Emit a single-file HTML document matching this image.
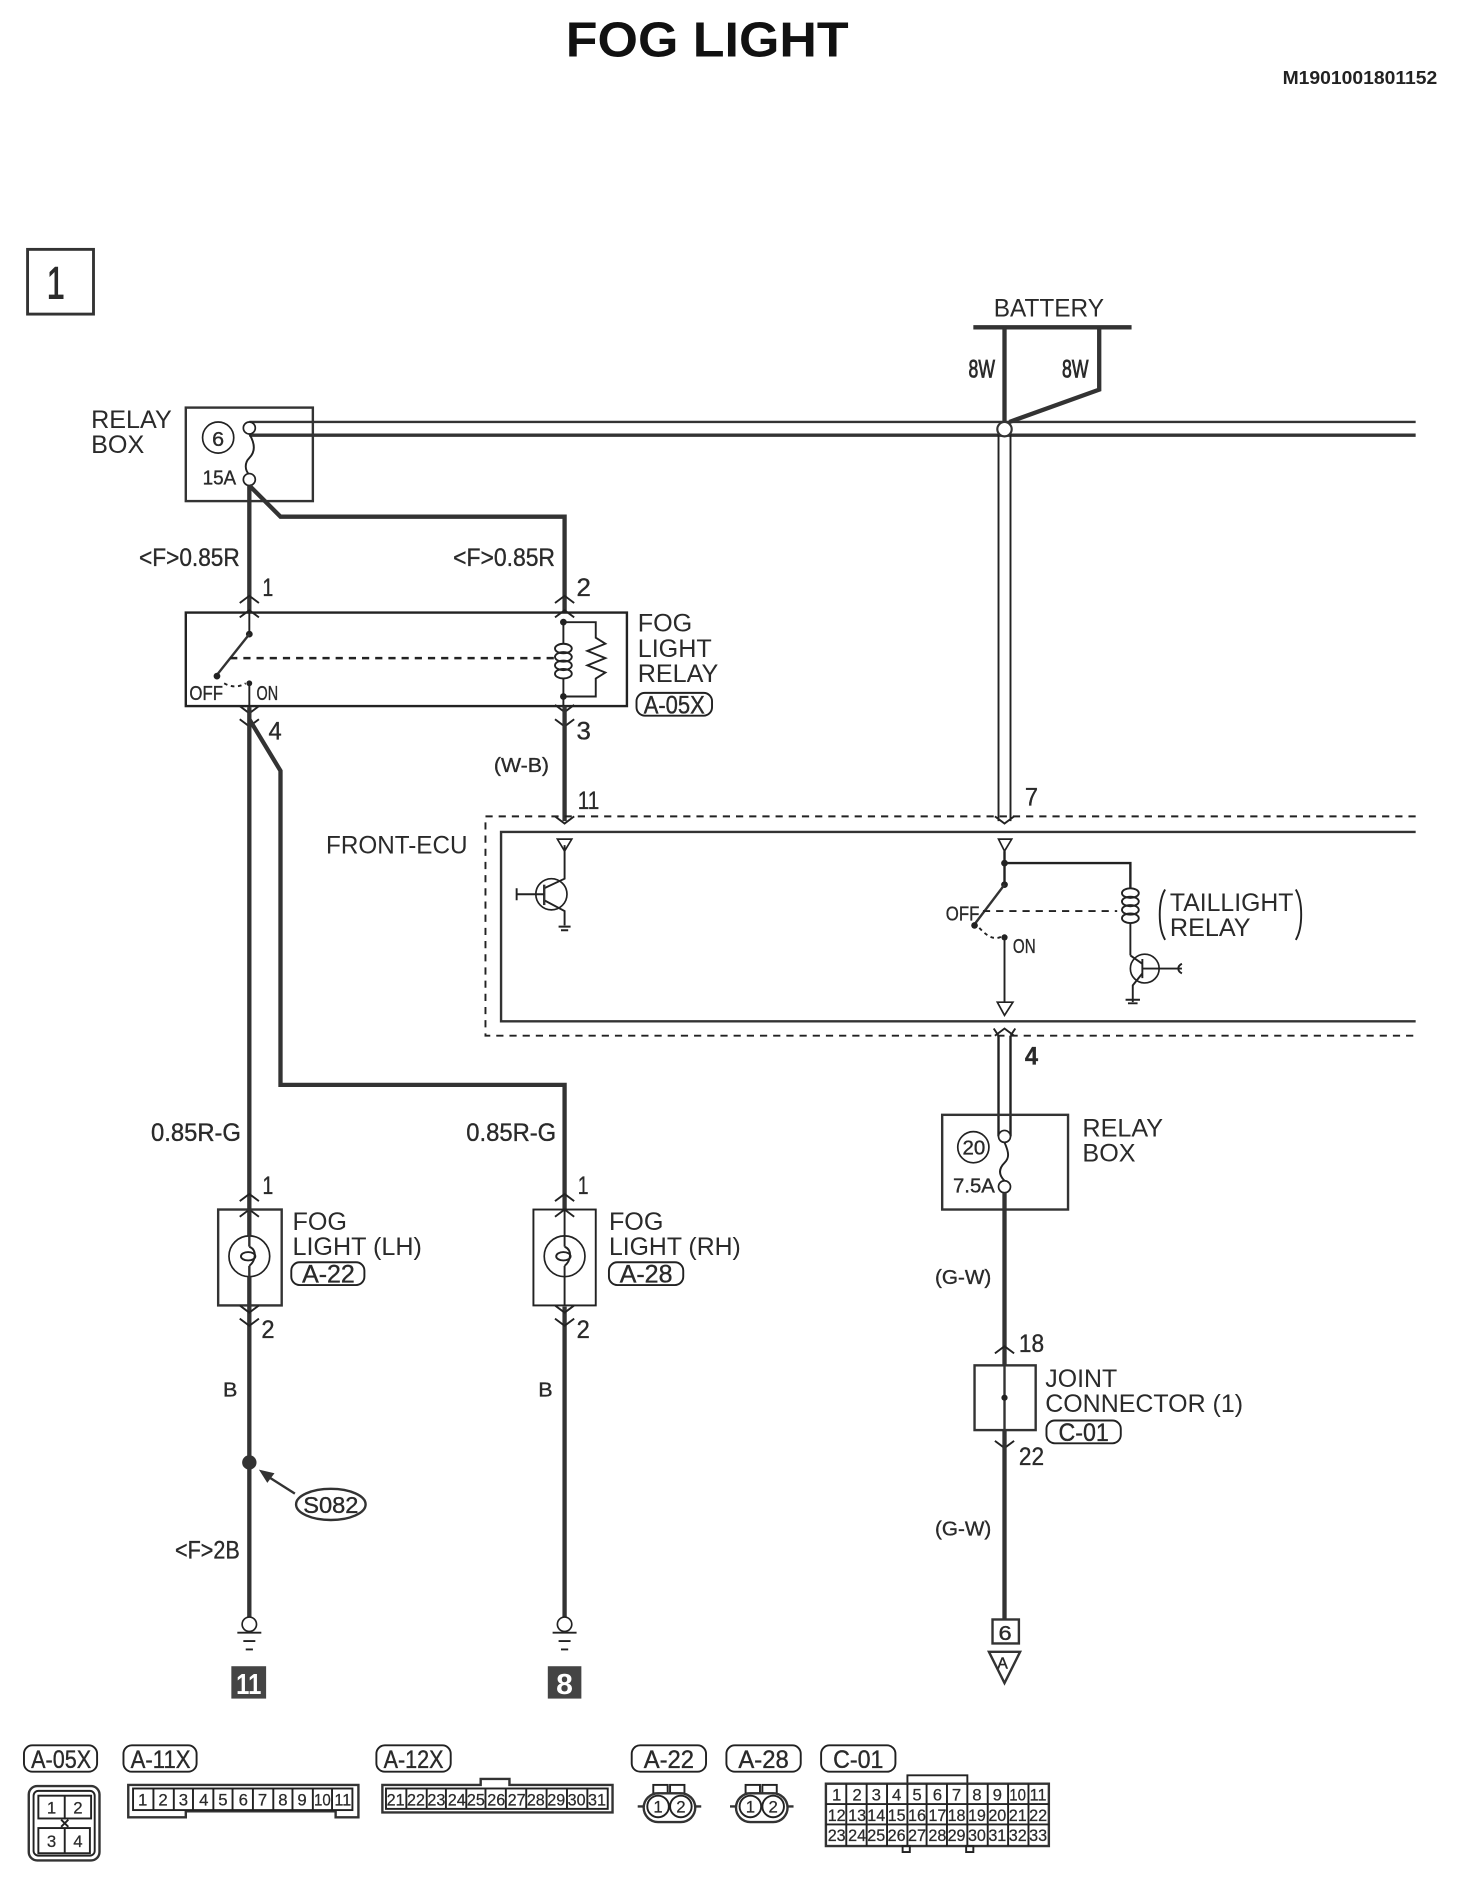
<!DOCTYPE html>
<html><head><meta charset="utf-8"><title>FOG LIGHT</title>
<style>
html,body{margin:0;padding:0;background:#fff}
svg{display:block}
text{font-family:"Liberation Sans",sans-serif;fill:#2a2a2a;font-size:21px}
.n{font-size:21px;stroke:#2a2a2a;stroke-width:.3}
.s{font-size:17px;stroke:#2a2a2a;stroke-width:.3}
.w{stroke:#333;stroke-width:3.6;fill:none}
.t{stroke:#222;stroke-width:1.6;fill:none}
.b{stroke:#333;stroke-width:2;fill:none}
.p{stroke:#333;stroke-width:1.8;fill:#fff}
.c{stroke:#222;stroke-width:1.4;fill:#fff}
.d{stroke:#222;stroke-width:1.6;fill:none;stroke-dasharray:6 5}
.cell text{font-size:14px;text-anchor:middle;stroke:#2a2a2a;stroke-width:.2}
</style></head><body>
<svg xmlns="http://www.w3.org/2000/svg" width="1472" height="1880" viewBox="0 0 1228 1568.3">
<defs>
<path id="u" class="t" d="M-8 6L0 0L8 6"/>
<path id="v" class="t" d="M-8 -6L0 0L8 -6"/>
</defs>
<rect width="1228" height="1569" fill="#fff"/>

<text x="472" y="47" style="font-size:41px;font-weight:bold;fill:#111" textLength="236" lengthAdjust="spacingAndGlyphs">FOG LIGHT</text>
<text x="1070" y="70" style="font-size:15.5px;font-weight:bold;fill:#222" textLength="129" lengthAdjust="spacingAndGlyphs">M1901001801152</text>

<rect x="23" y="208" width="55" height="54" class="b" style="stroke-width:2.4"/>
<text x="39" y="249" style="font-size:38px;stroke:#2a2a2a;stroke-width:.8" textLength="15" lengthAdjust="spacingAndGlyphs">1</text>

<!-- battery -->
<text x="829" y="264" textLength="92" lengthAdjust="spacingAndGlyphs">BATTERY</text>
<path d="M812 273H944" class="w"/>
<path d="M838 273V352" class="w"/>
<path d="M917 273V325L842 352" class="w"/>
<text x="808" y="315" class="n" style="stroke-width:.7" textLength="22" lengthAdjust="spacingAndGlyphs">8W</text>
<text x="886" y="315" class="n" style="stroke-width:.7" textLength="22" lengthAdjust="spacingAndGlyphs">8W</text>

<!-- bus -->
<path d="M208 352H1181" class="b"/>
<path d="M208 363H1181" class="b" style="stroke-width:2.8"/>
<path d="M833 358V685M843 358V685" class="t"/>
<circle cx="838" cy="358" r="6" class="p"/>

<!-- relay box 6 -->
<rect x="155" y="340" width="106" height="78" class="b"/>
<text x="76" y="357">RELAY</text>
<text x="76" y="378">BOX</text>
<circle cx="182" cy="365" r="13" class="c"/>
<text x="177" y="372" class="s" textLength="10" lengthAdjust="spacingAndGlyphs">6</text>
<text x="169" y="404" class="s" textLength="28" lengthAdjust="spacingAndGlyphs">15A</text>
<path d="M208 362C214 372 212 378 208 382C204 386 204 392 208 396" class="t"/>
<circle cx="208" cy="357" r="5" class="c"/>
<circle cx="208" cy="400" r="5" class="c"/>

<path d="M208 405V510" class="w"/>
<path d="M208 405L234 431H471V510" class="w"/>
<text x="116" y="472" class="n" textLength="84" lengthAdjust="spacingAndGlyphs">&lt;F&gt;0.85R</text>
<text x="378" y="472" class="n" textLength="85" lengthAdjust="spacingAndGlyphs">&lt;F&gt;0.85R</text>
<text x="219" y="497" class="n" textLength="9" lengthAdjust="spacingAndGlyphs">1</text>
<text x="481" y="497" class="n" textLength="12" lengthAdjust="spacingAndGlyphs">2</text>
<use href="#u" x="208" y="497"/><use href="#u" x="208" y="509"/>
<use href="#u" x="471" y="497"/><use href="#u" x="471" y="509"/>

<!-- fog light relay -->
<rect x="155" y="511" width="368" height="78" class="t" style="stroke-width:2"/>
<text x="532" y="527">FOG</text>
<text x="532" y="548">LIGHT</text>
<text x="532" y="569">RELAY</text>
<rect x="531" y="578" width="63" height="19" rx="7" class="t"/>
<text x="537" y="595" class="n" textLength="51" lengthAdjust="spacingAndGlyphs">A-05X</text>
<path d="M208 511V529" class="t"/>
<circle cx="208" cy="529" r="2.8" fill="#222"/>
<path d="M208 529L181 563" class="b"/>
<circle cx="181" cy="564" r="2.8" fill="#222"/>
<path d="M192 549H465" class="d" style="stroke-width:2"/>
<path d="M187 570C194 574 200 573 205 570" class="t" stroke-dasharray="3 3"/>
<circle cx="208" cy="570" r="2.4" fill="#222"/>
<path d="M208 570V600" class="t"/>
<text x="158" y="584" class="s" textLength="28" lengthAdjust="spacingAndGlyphs">OFF</text>
<text x="214" y="584" class="s" textLength="18" lengthAdjust="spacingAndGlyphs">ON</text>
<use href="#v" x="208" y="595"/><use href="#v" x="208" y="606"/>
<!-- coil -->
<circle cx="470" cy="519" r="2.8" fill="#222"/>
<circle cx="470" cy="581" r="2.8" fill="#222"/>
<path d="M470 519V537M470 566V590" class="t"/>
<g class="t"><ellipse cx="470" cy="541" rx="7" ry="4"/><ellipse cx="470" cy="548" rx="7" ry="4"/><ellipse cx="470" cy="555" rx="7" ry="4"/><ellipse cx="470" cy="562" rx="7" ry="4"/></g>
<path d="M470 519H497V532L505 537L490 543L505 549L490 555L505 561L497 566V581H470" class="t"/>
<use href="#v" x="471" y="594"/><use href="#v" x="471" y="606"/>
<text x="481" y="617" class="n" textLength="12" lengthAdjust="spacingAndGlyphs">3</text>
<text x="224" y="617" class="n" textLength="11" lengthAdjust="spacingAndGlyphs">4</text>

<path d="M471 589V685" class="w"/>
<text x="412" y="644" class="s" textLength="46" lengthAdjust="spacingAndGlyphs">(W-B)</text>
<text x="482" y="675" class="n" textLength="18" lengthAdjust="spacingAndGlyphs">11</text>
<text x="855" y="672" class="n" textLength="11" lengthAdjust="spacingAndGlyphs">7</text>
<use href="#v" x="471" y="687"/><use href="#v" x="838" y="687"/>

<!-- front ecu -->
<path d="M1181 681H405V864H1181" class="d"/>
<path d="M1181 694H418V852H1181" class="b"/>
<text x="272" y="712" style="font-size:20.5px" textLength="118" lengthAdjust="spacingAndGlyphs">FRONT-ECU</text>
<path d="M465 700H477L471 710Z" class="c"/>
<circle cx="460" cy="746" r="13" class="c"/>
<path d="M471 705V733L454 741M454 751L471 760V772" class="t"/>
<path d="M454 738V755" class="b"/>
<path d="M454 746H431M431 741V751" class="t"/>
<path d="M466 773H476M468 776H474" class="t"/>

<path d="M833 700H844L838 710Z" class="c"/>
<path d="M838 710V738M838 720H943V741" class="t" style="stroke-width:2"/>
<circle cx="838" cy="720" r="2.8" fill="#222"/>
<circle cx="838" cy="738" r="2.8" fill="#222"/>
<path d="M838 738L813 771" class="b"/>
<circle cx="813" cy="772" r="2.8" fill="#222"/>
<path d="M820 760H932" class="d"/>
<path d="M817 774C825 783 831 784 836 781" class="t" stroke-dasharray="3 3"/>
<circle cx="838" cy="782" r="2.6" fill="#222"/>
<path d="M838 782V836" class="t"/>
<path d="M832 836H845L838 847Z" class="c"/>
<text x="789" y="768" class="s" textLength="28" lengthAdjust="spacingAndGlyphs">OFF</text>
<text x="845" y="795" class="s" textLength="19" lengthAdjust="spacingAndGlyphs">ON</text>
<g class="t"><ellipse cx="943" cy="745" rx="7" ry="4"/><ellipse cx="943" cy="752" rx="7" ry="4"/><ellipse cx="943" cy="759" rx="7" ry="4"/><ellipse cx="943" cy="766" rx="7" ry="4"/></g>
<path d="M943 770V797" class="t"/>
<circle cx="955" cy="808" r="12" class="c"/>
<path d="M943 797L953 804V812L945 822V836M953 800V816M953 808H986M986 804C982 806 982 810 986 812" class="t"/>
<path d="M939 834H951M941 837H949" class="t"/>
<text x="976" y="760" textLength="103" lengthAdjust="spacingAndGlyphs">TAILLIGHT</text>
<text x="976" y="781">RELAY</text>
<path d="M972 742C966 752 966 774 972 784M1081 742C1087 752 1087 774 1081 784" class="t"/>

<!-- fuse 20 -->
<path d="M833 864V948M843 864V948" class="t" style="stroke-width:2"/>
<use href="#u" x="838" y="858"/>
<path d="M829 858L833 864M847 858L843 864" class="t"/>
<text x="855" y="888" class="n" style="font-weight:bold" textLength="11" lengthAdjust="spacingAndGlyphs">4</text>
<rect x="786" y="930" width="105" height="79" class="b"/>
<text x="903" y="948">RELAY</text>
<text x="903" y="969">BOX</text>
<circle cx="812" cy="957" r="13" class="c"/>
<text x="803" y="963" class="s" textLength="19" lengthAdjust="spacingAndGlyphs">20</text>
<text x="795" y="995" class="s" textLength="35" lengthAdjust="spacingAndGlyphs">7.5A</text>
<path d="M838 953C842 962 842 966 838 970C833 975 833 980 838 985" class="t"/>
<circle cx="838" cy="948" r="5" class="c"/>
<circle cx="838" cy="990" r="5" class="c"/>

<path d="M838 995V1139" class="w"/>
<text x="780" y="1071" class="s" textLength="47" lengthAdjust="spacingAndGlyphs">(G-W)</text>
<use href="#u" x="838" y="1123"/>
<text x="850" y="1128" class="n" textLength="21" lengthAdjust="spacingAndGlyphs">18</text>
<rect x="813" y="1139" width="51" height="54" class="b"/>
<path d="M838 1139V1193" class="b"/>
<circle cx="838" cy="1166" r="2.6" fill="#222"/>
<text x="872" y="1157" textLength="60" lengthAdjust="spacingAndGlyphs">JOINT</text>
<text x="872" y="1178" textLength="165" lengthAdjust="spacingAndGlyphs">CONNECTOR (1)</text>
<rect x="873" y="1185" width="62" height="19" rx="7" class="t"/>
<text x="883" y="1202" class="n" textLength="42" lengthAdjust="spacingAndGlyphs">C-01</text>
<use href="#v" x="838" y="1208"/>
<text x="850" y="1222" class="n" textLength="21" lengthAdjust="spacingAndGlyphs">22</text>
<path d="M838 1193V1351" class="w"/>
<text x="780" y="1281" class="s" textLength="47" lengthAdjust="spacingAndGlyphs">(G-W)</text>
<rect x="828" y="1351" width="22" height="20" class="b"/>
<text x="833" y="1368" class="s" textLength="11" lengthAdjust="spacingAndGlyphs">6</text>
<path d="M825 1378H851L838 1404Z" class="b"/>
<text x="832" y="1392" style="font-size:13px;stroke:#2a2a2a;stroke-width:.4">A</text>

<!-- fog lights wires -->
<path d="M208 590V1355" class="w"/>
<path d="M208 600L234 643V905H471V1010" class="w"/>
<path d="M471 1090V1350" class="w"/>
<text x="126" y="952" class="n" textLength="75" lengthAdjust="spacingAndGlyphs">0.85R-G</text>
<text x="389" y="952" class="n" textLength="75" lengthAdjust="spacingAndGlyphs">0.85R-G</text>
<text x="219" y="996" class="n" textLength="9" lengthAdjust="spacingAndGlyphs">1</text>
<text x="482" y="996" class="n" textLength="9" lengthAdjust="spacingAndGlyphs">1</text>
<use href="#u" x="208" y="996"/><use href="#u" x="208" y="1009"/>
<use href="#u" x="471" y="996"/><use href="#u" x="471" y="1009"/>

<rect x="182" y="1009" width="53" height="80" class="b"/>
<rect x="445" y="1009" width="52" height="80" class="t"/>
<circle cx="208" cy="1048" r="17" class="c"/>
<path d="M208 1009V1040M208 1056V1089" class="b"/>
<ellipse cx="207" cy="1048" rx="6" ry="3.5" class="t"/>
<path d="M208 1040C215 1043 213 1052 208 1056" class="t"/>
<circle cx="471" cy="1048" r="17" class="c"/>
<path d="M471 1009V1040M471 1056V1089" class="t"/>
<ellipse cx="470" cy="1048" rx="6" ry="3.5" class="t"/>
<path d="M471 1040C478 1043 476 1052 471 1056" class="t"/>
<use href="#v" x="208" y="1095"/><use href="#v" x="208" y="1106"/>
<use href="#v" x="471" y="1095"/><use href="#v" x="471" y="1106"/>
<text x="244" y="1026">FOG</text>
<text x="244" y="1047" textLength="108" lengthAdjust="spacingAndGlyphs">LIGHT (LH)</text>
<rect x="243" y="1053" width="61" height="19" rx="7" class="t"/>
<text x="252" y="1070" class="n" textLength="44" lengthAdjust="spacingAndGlyphs">A-22</text>
<text x="508" y="1026">FOG</text>
<text x="508" y="1047" textLength="110" lengthAdjust="spacingAndGlyphs">LIGHT (RH)</text>
<rect x="508" y="1053" width="62" height="19" rx="7" class="t"/>
<text x="517" y="1070" class="n" textLength="44" lengthAdjust="spacingAndGlyphs">A-28</text>
<text x="218" y="1116" class="n" textLength="11" lengthAdjust="spacingAndGlyphs">2</text>
<text x="481" y="1116" class="n" textLength="11" lengthAdjust="spacingAndGlyphs">2</text>
<text x="186" y="1165" class="s" textLength="12" lengthAdjust="spacingAndGlyphs">B</text>
<text x="449" y="1165" class="s" textLength="12" lengthAdjust="spacingAndGlyphs">B</text>

<circle cx="208" cy="1220" r="6" fill="#333"/>
<path d="M246 1246L224 1232" class="b"/>
<path d="M216 1226L229 1229L223 1237Z" fill="#333"/>
<ellipse cx="276" cy="1255" rx="29" ry="13" class="b"/>
<text x="253" y="1262" style="font-size:19px;stroke:#2a2a2a;stroke-width:.3" textLength="46" lengthAdjust="spacingAndGlyphs">S082</text>
<text x="146" y="1300" class="n" textLength="54" lengthAdjust="spacingAndGlyphs">&lt;F&gt;2B</text>

<!-- grounds -->
<circle cx="208" cy="1355" r="6" class="c"/>
<circle cx="471" cy="1355" r="6" class="c"/>
<path d="M198 1362H218M203 1369H213M205 1376H211" class="t"/>
<path d="M461 1362H481M466 1369H476M468 1376H474" class="t"/>
<rect x="193" y="1390" width="29" height="27" fill="#444"/>
<text x="197" y="1413" style="fill:#fff;font-size:24px;font-weight:bold" textLength="21" lengthAdjust="spacingAndGlyphs">11</text>
<rect x="457" y="1390" width="28" height="27" fill="#444"/>
<text x="464" y="1413" style="fill:#fff;font-size:24px;font-weight:bold" textLength="14" lengthAdjust="spacingAndGlyphs">8</text>

<!-- bottom labels -->
<g>
<rect x="20" y="1456" width="61" height="22" rx="7" class="t"/>
<text x="26" y="1475" class="n" textLength="50" lengthAdjust="spacingAndGlyphs">A-05X</text>
<rect x="103" y="1456" width="61" height="22" rx="7" class="t"/>
<text x="109" y="1475" class="n" textLength="50" lengthAdjust="spacingAndGlyphs">A-11X</text>
<rect x="314" y="1456" width="62" height="22" rx="7" class="t"/>
<text x="320" y="1475" class="n" textLength="50" lengthAdjust="spacingAndGlyphs">A-12X</text>
<rect x="527" y="1456" width="62" height="22" rx="7" class="t"/>
<text x="537" y="1475" class="n" textLength="42" lengthAdjust="spacingAndGlyphs">A-22</text>
<rect x="606" y="1456" width="62" height="22" rx="7" class="t"/>
<text x="616" y="1475" class="n" textLength="42" lengthAdjust="spacingAndGlyphs">A-28</text>
<rect x="685" y="1456" width="62" height="22" rx="7" class="t"/>
<text x="695" y="1475" class="n" textLength="42" lengthAdjust="spacingAndGlyphs">C-01</text>
</g>

<!-- A-05X connector -->
<rect x="24" y="1490" width="59" height="62" rx="7" class="b"/>
<rect x="28" y="1494" width="51" height="54" rx="4" class="t"/>
<rect x="32" y="1498" width="44" height="19" class="t"/>
<rect x="32" y="1525" width="43" height="21" class="t"/>
<path d="M54 1498V1517M54 1525V1546M51 1518L57 1524M57 1518L51 1524" class="t"/>
<g class="cell">
<text x="43" y="1513">1</text><text x="65" y="1513">2</text>
<text x="43" y="1541">3</text><text x="65" y="1541">4</text>
</g>

<!-- A-11X connector -->
<path d="M107 1489H299V1516H280V1511H155V1516H107Z" class="b"/>
<rect x="111" y="1492" width="183" height="18" class="t"/>
<path d="M128 1492V1510M145 1492V1510M161 1492V1510M178 1492V1510M194 1492V1510M211 1492V1510M228 1492V1510M244 1492V1510M261 1492V1510M277 1492V1510" class="t"/>
<g class="cell">
<text x="119" y="1506">1</text><text x="136" y="1506">2</text><text x="153" y="1506">3</text><text x="170" y="1506">4</text><text x="186" y="1506">5</text><text x="203" y="1506">6</text><text x="219" y="1506">7</text><text x="236" y="1506">8</text><text x="252" y="1506">9</text>
<text x="269" y="1506" textLength="14" lengthAdjust="spacingAndGlyphs">10</text><text x="286" y="1506" textLength="14" lengthAdjust="spacingAndGlyphs">11</text>
</g>

<!-- A-12X connector -->
<path d="M319 1489H401V1484H425V1489H511V1512H319Z" class="b"/>
<rect x="322" y="1492" width="185" height="17" class="t"/>
<path d="M339 1492V1509M356 1492V1509M372 1492V1509M389 1492V1509M405 1492V1509M422 1492V1509M439 1492V1509M456 1492V1509M473 1492V1509M490 1492V1509" class="t"/>
<g class="cell">
<text x="330" y="1506" textLength="15" lengthAdjust="spacingAndGlyphs">21</text><text x="347" y="1506" textLength="15" lengthAdjust="spacingAndGlyphs">22</text><text x="364" y="1506" textLength="15" lengthAdjust="spacingAndGlyphs">23</text><text x="381" y="1506" textLength="15" lengthAdjust="spacingAndGlyphs">24</text><text x="397" y="1506" textLength="15" lengthAdjust="spacingAndGlyphs">25</text><text x="414" y="1506" textLength="15" lengthAdjust="spacingAndGlyphs">26</text><text x="431" y="1506" textLength="15" lengthAdjust="spacingAndGlyphs">27</text><text x="447" y="1506" textLength="15" lengthAdjust="spacingAndGlyphs">28</text><text x="464" y="1506" textLength="15" lengthAdjust="spacingAndGlyphs">29</text><text x="481" y="1506" textLength="15" lengthAdjust="spacingAndGlyphs">30</text><text x="498" y="1506" textLength="15" lengthAdjust="spacingAndGlyphs">31</text>
</g>

<!-- A-22 / A-28 -->
<g>
<rect x="545" y="1489" width="12" height="7" class="t"/><rect x="559" y="1489" width="12" height="7" class="t"/>
<rect x="537" y="1496" width="43" height="24" rx="12" class="b"/>
<circle cx="549" cy="1507" r="9" class="t"/><circle cx="568" cy="1507" r="9" class="t"/>
<path d="M532 1507H537M580 1507H585" class="b"/>
<g class="cell"><text x="549" y="1512">1</text><text x="568" y="1512">2</text></g>
</g>
<g transform="translate(77 0)">
<rect x="545" y="1489" width="12" height="7" class="t"/><rect x="559" y="1489" width="12" height="7" class="t"/>
<rect x="537" y="1496" width="43" height="24" rx="12" class="b"/>
<circle cx="549" cy="1507" r="9" class="t"/><circle cx="568" cy="1507" r="9" class="t"/>
<path d="M532 1507H537M580 1507H585" class="b"/>
<g class="cell"><text x="549" y="1512">1</text><text x="568" y="1512">2</text></g>
</g>

<!-- C-01 -->
<path d="M757 1488V1481H807V1488" class="t"/>
<rect x="689" y="1488" width="186" height="52" class="b"/>
<path d="M689 1505H875M689 1522H875" class="t"/>
<path d="M706 1488V1540M723 1488V1540M740 1488V1540M757 1488V1540M773 1488V1540M790 1488V1540M807 1488V1540M824 1488V1540M841 1488V1540M858 1488V1540" class="t"/>
<rect x="753" y="1540" width="6" height="5" class="t"/><rect x="806" y="1540" width="6" height="5" class="t"/>
<g class="cell">
<text x="698" y="1502">1</text><text x="715" y="1502">2</text><text x="731" y="1502">3</text><text x="748" y="1502">4</text><text x="765" y="1502">5</text><text x="782" y="1502">6</text><text x="798" y="1502">7</text><text x="815" y="1502">8</text><text x="832" y="1502">9</text>
<text x="849" y="1502" textLength="14" lengthAdjust="spacingAndGlyphs">10</text><text x="866" y="1502" textLength="14" lengthAdjust="spacingAndGlyphs">11</text>
<text x="698" y="1519" textLength="15" lengthAdjust="spacingAndGlyphs">12</text><text x="715" y="1519" textLength="15" lengthAdjust="spacingAndGlyphs">13</text><text x="731" y="1519" textLength="15" lengthAdjust="spacingAndGlyphs">14</text><text x="748" y="1519" textLength="15" lengthAdjust="spacingAndGlyphs">15</text><text x="765" y="1519" textLength="15" lengthAdjust="spacingAndGlyphs">16</text><text x="782" y="1519" textLength="15" lengthAdjust="spacingAndGlyphs">17</text><text x="798" y="1519" textLength="15" lengthAdjust="spacingAndGlyphs">18</text><text x="815" y="1519" textLength="15" lengthAdjust="spacingAndGlyphs">19</text><text x="832" y="1519" textLength="15" lengthAdjust="spacingAndGlyphs">20</text><text x="849" y="1519" textLength="15" lengthAdjust="spacingAndGlyphs">21</text><text x="866" y="1519" textLength="15" lengthAdjust="spacingAndGlyphs">22</text>
<text x="698" y="1536" textLength="15" lengthAdjust="spacingAndGlyphs">23</text><text x="715" y="1536" textLength="15" lengthAdjust="spacingAndGlyphs">24</text><text x="731" y="1536" textLength="15" lengthAdjust="spacingAndGlyphs">25</text><text x="748" y="1536" textLength="15" lengthAdjust="spacingAndGlyphs">26</text><text x="765" y="1536" textLength="15" lengthAdjust="spacingAndGlyphs">27</text><text x="782" y="1536" textLength="15" lengthAdjust="spacingAndGlyphs">28</text><text x="798" y="1536" textLength="15" lengthAdjust="spacingAndGlyphs">29</text><text x="815" y="1536" textLength="15" lengthAdjust="spacingAndGlyphs">30</text><text x="832" y="1536" textLength="15" lengthAdjust="spacingAndGlyphs">31</text><text x="849" y="1536" textLength="15" lengthAdjust="spacingAndGlyphs">32</text><text x="866" y="1536" textLength="15" lengthAdjust="spacingAndGlyphs">33</text>
</g>
</svg>
</body></html>
